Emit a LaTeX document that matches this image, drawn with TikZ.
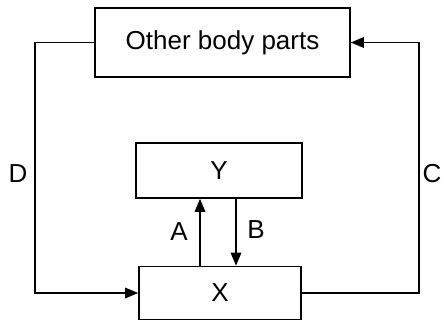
\documentclass[tikz,border=0pt]{standalone}
\usepackage{fontspec}
\setmainfont{Liberation Sans}
\usetikzlibrary{arrows.meta}
\begin{document}
\begin{tikzpicture}[x=1pt,y=-1pt,
  box/.style={draw,line width=1.6pt,inner sep=0pt,font=\fontsize{26}{30}\selectfont},
  lbl/.style={inner sep=0pt,font=\fontsize{26}{30}\selectfont},
  conn/.style={line width=1.6pt},
  arr/.style={conn,-{Triangle[length=13pt,width=10.5pt]}}]
\useasboundingbox (0,0) rectangle (443,321);
\node[box,minimum width=255pt,minimum height=69pt] (other) at (222.5,42.5) {Other body parts};
\node[box,minimum width=166pt,minimum height=55pt] (Y) at (219,170.5) {Y};
\node[box,minimum width=162pt,minimum height=53pt] (X) at (220,293) {X};
\coordinate (dl) at (35,170);
\coordinate (cr) at (419,170);
\draw[arr] (other.west) -| (dl) |- (X.west);
\draw[arr] (X.east) -| (cr) |- (other.east);
\draw[arr] ([xshift=-20pt]X.north) -- ([xshift=-19pt]Y.south);
\draw[arr] ([xshift=17pt]Y.south) -- ([xshift=16pt]X.north);
\node[lbl] (D) at (18,174) {D};
\node[lbl] (C) at (432,174) {C};
\node[lbl] (A) at (179,232) {A};
\node[lbl] (B) at (256,230) {B};
\end{tikzpicture}
\end{document}
